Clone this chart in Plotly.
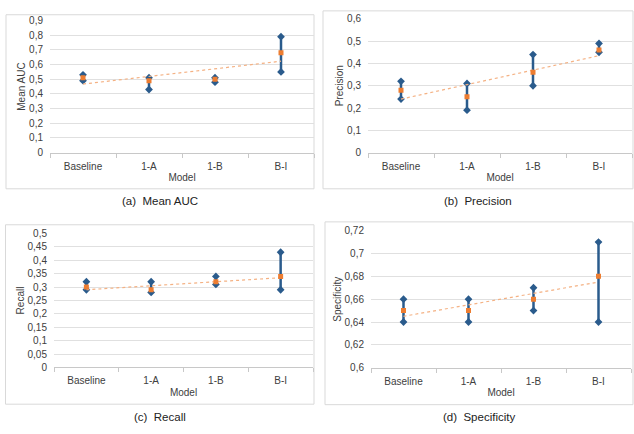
import plotly.graph_objects as go
import numpy as np

models = ["Baseline", "1-A", "1-B", "B-I"]

auc_high = [0.53, 0.51, 0.51, 0.79]
auc_low = [0.49, 0.43, 0.48, 0.55]
auc_mean = [0.51, 0.49, 0.50, 0.68]

prec_high = [0.32, 0.31, 0.44, 0.49]
prec_low = [0.24, 0.19, 0.30, 0.45]
prec_mean = [0.28, 0.25, 0.36, 0.46]

rec_high = [0.32, 0.32, 0.34, 0.43]
rec_low = [0.29, 0.28, 0.31, 0.29]
rec_mean = [0.30, 0.29, 0.32, 0.34]

spec_high = [0.66, 0.66, 0.67, 0.71]
spec_low = [0.64, 0.64, 0.65, 0.64]
spec_mean = [0.65, 0.65, 0.66, 0.68]

titles = ["Mean AUC", "Precision", "Recall", "Specificity"]
captions = ["(a)  Mean AUC", "(b)  Precision", "(c)  Recall", "(d)  Specificity"]

W, H = 634, 434
BLUE = "#2a5b8c"
ORANGE = "#ed7d31"
TREND = "#f4b183"
GRID = "#e0e0e0"
FONT = "Liberation Sans, Arial, sans-serif"

panels = [
    dict(x=(50, 314), y=(15, 150.7), rng=(0, 0.9), dt=0.1, box=(6, 9, 314, 188), cap=201,
         hi=auc_high, lo=auc_low, mean=auc_mean),
    dict(x=(368, 632), y=(13.3, 150.7), rng=(0, 0.6), dt=0.1, box=(323, 5, 633, 188), cap=201,
         hi=prec_high, lo=prec_low, mean=prec_mean),
    dict(x=(54, 313), y=(234, 371.7), rng=(0, 0.5), dt=0.05, box=(5.5, 225, 314, 409.5), cap=423,
         hi=rec_high, lo=rec_low, mean=rec_mean),
    dict(x=(371, 631), y=(231, 372), rng=(0.6, 0.72), dt=0.02, box=(325, 222, 633, 410), cap=423,
         hi=spec_high, lo=spec_low, mean=spec_mean),
]

fig = go.Figure()
shapes = []
annotations = []
xs = list(range(len(models)))

for i, p in enumerate(panels):
    n = i + 1
    xa = "x" if n == 1 else f"x{n}"
    ya = "y" if n == 1 else f"y{n}"
    lx, ly = [], []
    for k in xs:
        lx += [k, k, None]
        ly += [p["lo"][k], p["hi"][k], None]
    fig.add_trace(go.Scatter(x=lx, y=ly, mode="lines+markers", xaxis=xa, yaxis=ya,
                             line=dict(color=BLUE, width=2.5),
                             marker=dict(symbol="diamond", size=6, color=BLUE),
                             showlegend=False, hoverinfo="skip"))
    coef = np.polyfit(xs, p["mean"], 1)
    tx = [xs[0], xs[-1]]
    ty = [float(np.polyval(coef, v)) for v in tx]
    fig.add_trace(go.Scatter(x=tx, y=ty, mode="lines", xaxis=xa, yaxis=ya,
                             line=dict(color=TREND, width=1.2, dash="dot"),
                             showlegend=False, hoverinfo="skip"))
    fig.add_trace(go.Scatter(x=xs, y=p["mean"], mode="markers", xaxis=xa, yaxis=ya,
                             marker=dict(symbol="square", size=5, color=ORANGE),
                             showlegend=False))
    xdom = [p["x"][0] / W, p["x"][1] / W]
    ydom = [1 - p["y"][1] / H, 1 - p["y"][0] / H]
    xkey = "xaxis" if n == 1 else f"xaxis{n}"
    ykey = "yaxis" if n == 1 else f"yaxis{n}"
    fig.layout[xkey] = dict(domain=xdom, anchor=ya, range=[-0.5, 3.5],
                            tickvals=xs, ticktext=models, ticks="",
                            showgrid=False, zeroline=False, showline=True,
                            linecolor="#c8c8c8", linewidth=1,
                            minor=dict(tickvals=[-0.5, 0.5, 1.5, 2.5, 3.5], ticks="outside",
                                       ticklen=4, tickcolor="#c8c8c8", showgrid=False),
                            tickfont=dict(family=FONT, size=10, color="#404040"),
                            ticklabelstandoff=4,
                            title=dict(text="Model", font=dict(family=FONT, size=10, color="#404040"),
                                       standoff=3),
                            fixedrange=True)
    fig.layout[ykey] = dict(domain=ydom, anchor=xa, range=list(p["rng"]), dtick=p["dt"],
                            tick0=p["rng"][0],
                            showgrid=True, gridcolor=GRID, gridwidth=1, zeroline=False,
                            showline=False, ticks="",
                            tickfont=dict(family=FONT, size=10, color="#404040"),
                            ticklabelstandoff=6,
                            title=dict(text=titles[i], font=dict(family=FONT, size=10, color="#404040"),
                                       standoff=1),
                            fixedrange=True)
    bx0, by0, bx1, by1 = p["box"]
    shapes.append(dict(type="rect", xref="paper", yref="paper",
                       x0=bx0 / W, x1=bx1 / W, y0=1 - by1 / H, y1=1 - by0 / H,
                       line=dict(color="#d9d9d9", width=1), layer="below"))
    annotations.append(dict(text=captions[i], xref="paper", yref="paper",
                            x=(bx0 + bx1) / 2 / W, y=1 - p["cap"] / H,
                            xanchor="center", yanchor="middle", showarrow=False,
                            font=dict(family=FONT, size=11.5, color="#222222")))

fig.update_layout(width=W, height=H, margin=dict(l=0, r=0, t=0, b=0),
                  paper_bgcolor="white", plot_bgcolor="white",
                  separators=",.", shapes=shapes, annotations=annotations,
                  showlegend=False)

fig.write_html("out.html", config={"displayModeBar": False},
               post_script="document.body.style.margin='0';document.body.style.overflow='hidden';")
